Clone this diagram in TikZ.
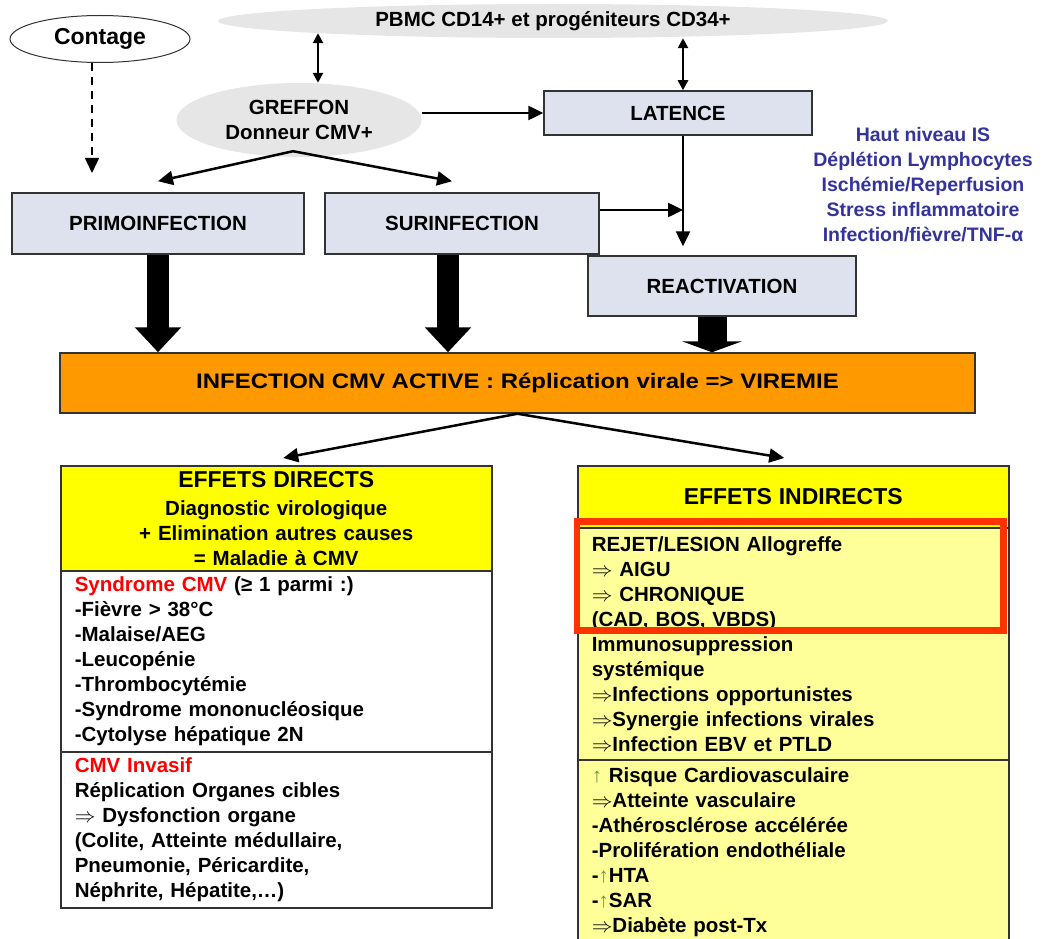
\documentclass[tikz,border=0pt]{standalone}
\usepackage{fontspec}
\setmainfont{Liberation Sans}
\usetikzlibrary{positioning,arrows.meta,shapes.geometric}
\definecolor{stagefill}{RGB}{221,226,238}
\definecolor{edgegray}{RGB}{51,51,51}
\definecolor{cloudgray}{RGB}{230,230,230}
\definecolor{activeorange}{RGB}{255,153,0}
\definecolor{headyellow}{RGB}{255,255,0}
\definecolor{paleyellow}{RGB}{255,255,153}
\definecolor{alertred}{RGB}{255,0,0}
\definecolor{framered}{RGB}{255,51,0}
\definecolor{riskblue}{RGB}{51,51,153}
\definecolor{upgreen}{RGB}{110,150,60}
\newcommand{\bodyfont}{\fontsize{20.5}{25}\selectfont\bfseries}
\newcommand{\headfont}{\fontsize{23}{28}\selectfont\bfseries}
\newcommand{\riskfont}{\fontsize{19.5}{25}\selectfont\bfseries}
\newcommand{\uparr}{{\color{upgreen}↑}}
\newcommand{\thenarr}{$\Rightarrow$}

\begin{document}
\begin{tikzpicture}[x=1pt,y=-1pt,
  stage/.style={rectangle,draw=edgegray,line width=1.5pt,fill=stagefill,font=\bodyfont},
  cloud/.style={ellipse,fill=cloudgray,font=\bodyfont,align=center,inner sep=0pt},
  panel/.style={rectangle,draw=edgegray,line width=1.5pt,inner xsep=14pt,inner ysep=0pt,
    text width=403pt,align=left,font=\bodyfont,anchor=north west},
  arr/.style={-{Triangle[length=15pt,width=14pt]},line width=2.5pt},
  twoway/.style={{Triangle[length=10pt,width=10pt]}-{Triangle[length=10pt,width=10pt]},line width=2.5pt},
  fat/.style={-{Triangle[length=25pt,width=45pt]},line width=22pt}
]
\useasboundingbox (0,0) rectangle (1047,939);

% top row
\node[cloud,minimum width=670pt,minimum height=34pt] (pbmc) at (553,21) {PBMC CD14+ et progéniteurs CD34+};
\node[ellipse,draw=edgegray,line width=1pt,fill=white,minimum width=180pt,minimum height=47pt,font=\headfont] (contage) at (100,39) {Contage};
\node[cloud,minimum width=245pt,minimum height=74pt] (greffon) at (299,120) {GREFFON\\Donneur CMV+};
\node[stage,minimum width=268pt,minimum height=44pt] (latence) at (678,113) {LATENCE};

% infection routes
\node[stage,minimum width=292pt,minimum height=61pt] (primo) at (158,223.5) {PRIMOINFECTION};
\node[stage,minimum width=274pt,minimum height=61pt] (surinf) at (462,223.5) {SURINFECTION};
\node[stage,minimum width=268pt,minimum height=60pt] (react) at (722,286) {REACTIVATION};
\node[text=riskblue,font=\riskfont,align=center] (facteurs) at (923,185)
  {Haut niveau IS\\Déplétion Lymphocytes\\Ischémie/Reperfusion\\Stress inflammatoire\\Infection/fièvre/TNF-α};

\node[stage,fill=activeorange,minimum width=915pt,minimum height=60pt,font=\fontsize{21}{25}\selectfont\bfseries] (active) at (517.5,383)
  {\scalebox{1.14}[1]{INFECTION CMV ACTIVE : Réplication virale => VIREMIE}};

% effets directs
\node[panel,fill=headyellow,minimum height=105pt,align=center] (dirhead) at (60,465)
  {{\headfont EFFETS DIRECTS}\\[3pt]Diagnostic virologique\\+ Elimination autres causes\\= Maladie à CMV};
\node[panel,fill=white,minimum height=181pt] (syndrome) at (60,570)
  {\textcolor{alertred}{Syndrome CMV} (≥ 1 parmi :)\\-Fièvre > 38°C\\-Malaise/AEG\\-Leucopénie\\-Thrombocytémie\\-Syndrome mononucléosique\\-Cytolyse hépatique 2N};
\node[panel,fill=white,minimum height=156pt] (invasif) at (60,751)
  {\textcolor{alertred}{CMV Invasif}\\Réplication Organes cibles\\\thenarr{} Dysfonction organe\\(Colite, Atteinte médullaire,\\Pneumonie, Péricardite,\\Néphrite, Hépatite,\dots)};

% effets indirects
\node[panel,fill=headyellow,minimum height=62pt,align=center] (indhead) at (577,465) {{\headfont EFFETS INDIRECTS}};
\node[panel,fill=paleyellow,minimum height=232pt] (immuno) at (577,527)
  {REJET/LESION Allogreffe\\\thenarr{} AIGU\\\thenarr{} CHRONIQUE\\(CAD, BOS, VBDS)\\Immunosuppression\\systémique\\\thenarr{}Infections opportunistes\\\thenarr{}Synergie infections virales\\\thenarr{}Infection EBV et PTLD};
\node[panel,fill=paleyellow,minimum height=185pt] (cardio) at (577,759)
  {\uparr{} Risque Cardiovasculaire\\\thenarr{}Atteinte vasculaire\\-Athérosclérose accélérée\\-Prolifération endothéliale\\-\uparr{}HTA\\-\uparr{}SAR\\\thenarr{}Diabète post-Tx};
\draw[framered,line width=6.5pt] (577,521.5) rectangle (1003.5,630.5);

% connectors
\coordinate (primoin) at (92,173);
\coordinate (merge) at (683,210);
\draw[twoway] ([xshift=19pt]greffon.north) -- ([xshift=19pt,yshift=5pt]greffon.north |- pbmc.south);
\draw[twoway] ([xshift=5pt]latence.north) -- ([xshift=5pt]latence.north |- pbmc.south);
\draw[arr] (greffon.east |- latence.west) -- (latence.west);
\draw[arr] ([xshift=-6pt,yshift=6pt]greffon.south) -- ([yshift=11pt]primo.north);
\draw[arr] ([xshift=-6pt,yshift=6pt]greffon.south) -- ([xshift=-10pt,yshift=11pt]surinf.north);
\draw[arr,line width=1.5pt,dash pattern=on 8pt off 6pt] ([xshift=-8pt]contage.south) -- (primoin);
\draw[arr] ([yshift=13.5pt]surinf.east) -- (merge);
\draw[arr] ([xshift=5pt]latence.south) -- ([xshift=5pt,yshift=9pt]latence.south |- react.north);
\draw[fat] (primo.south) -- (primo.south |- active.north);
\draw[fat] ([xshift=-14pt]surinf.south) -- ([xshift=-14pt]surinf.south |- active.north);
\draw[fat,line width=29pt,-{Triangle[length=11pt,width=60pt]}] ([xshift=-10pt]react.south) -- ([xshift=-10pt]react.south |- active.north);
\draw[arr] (active.south) -- ([xshift=7pt,yshift=7pt]dirhead.north);
\draw[arr] (active.south) -- ([xshift=-9pt,yshift=7pt]indhead.north);
\end{tikzpicture}
\end{document}
